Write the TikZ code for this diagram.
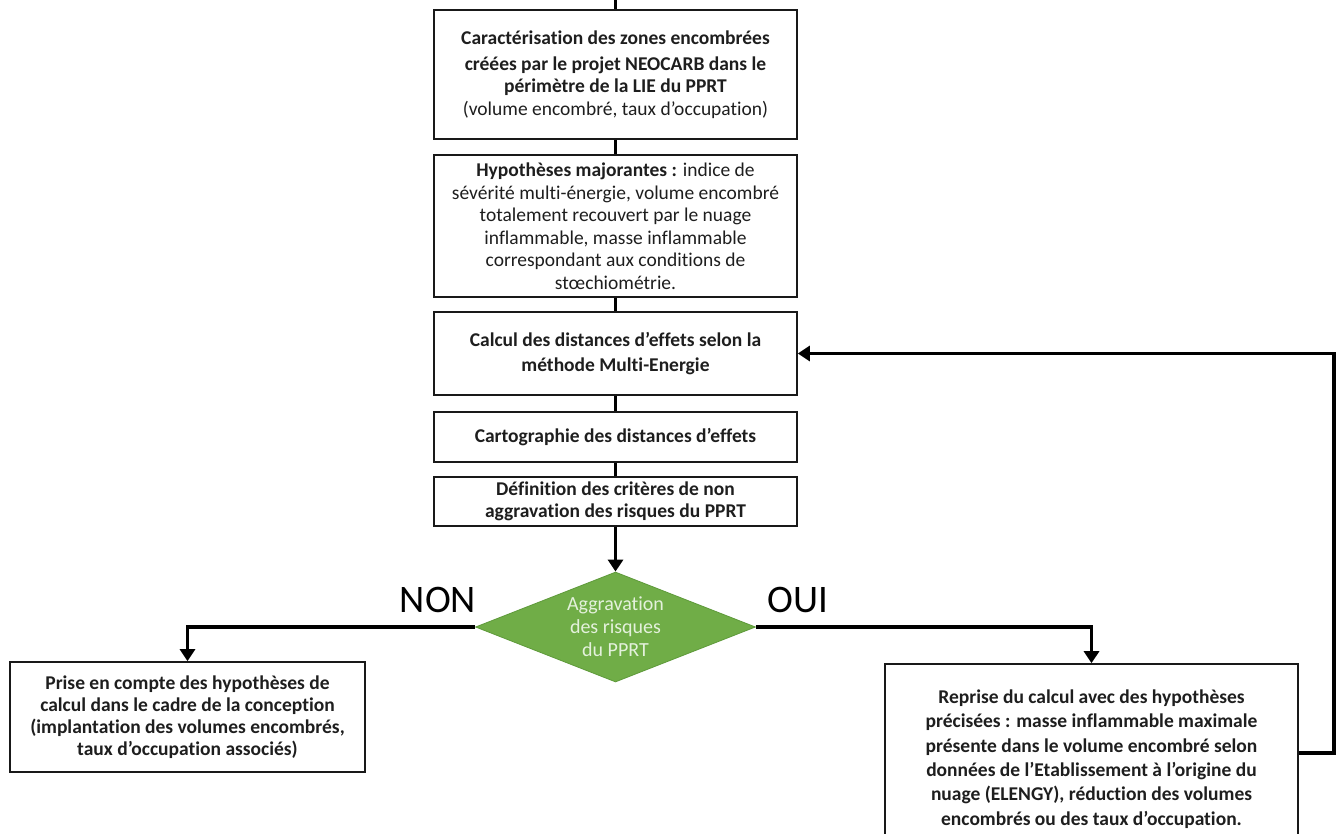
\documentclass[tikz,border=0pt]{standalone}
\usepackage{fontspec}
\setmainfont{Carlito}[Ligatures=NoCommon]
\usetikzlibrary{arrows.meta,shapes.geometric,calc}
\definecolor{txt}{HTML}{1E1E1E}
\definecolor{dgreen}{HTML}{70AD47}
\definecolor{dgreenb}{HTML}{5E9A3A}
\definecolor{ltxt}{HTML}{E4F1DC}
\tikzset{
  box/.style={draw=black!90, line width=1.6pt, fill=white, rectangle, align=center, inner sep=0pt, text=txt, font=\fontsize{19.5}{22.5}\selectfont},
  conn/.style={line width=3.6pt, black},
  arr/.style={conn, -{Triangle[width=15pt,length=12pt]}},
  lbl/.style={font=\fontsize{39}{42}\selectfont, text=black},
}
\begin{document}
\begin{tikzpicture}[x=1pt,y=-1pt]
\clip (0,0) rectangle (1340,834);
\fill[white] (0,0) rectangle (1340,834);
\node[box, minimum width=363pt, minimum height=129pt] (b1) at (615.5,74.5)
  {\textbf{Caractérisation des zones encombrées}\\[3pt]
   \textbf{créées par le projet NEOCARB dans le}\\
   \textbf{périmètre de la LIE du PPRT}\\
   (volume encombré, taux d’occupation)};
\node[box, minimum width=363pt, minimum height=142pt] (b2) at (615.5,226)
  {\textbf{Hypothèses majorantes :} indice de\\
   sévérité multi-énergie, volume encombré\\
   totalement recouvert par le nuage\\
   inflammable, masse inflammable\\
   correspondant aux conditions de\\
   stœchiométrie.};
\node[box, font=\bfseries\fontsize{19.5}{25}\selectfont, minimum width=363pt, minimum height=83pt] (b3) at (615.5,353.5)
  {Calcul des distances d’effets selon la\\méthode Multi-Energie};
\node[box, font=\bfseries\fontsize{19.5}{22}\selectfont, minimum width=363pt, minimum height=50pt] (b4) at (615.5,437)
  {Cartographie des distances d’effets};
\node[box, font=\bfseries\fontsize{19.5}{22}\selectfont, minimum width=363pt, minimum height=49pt] (b5) at (615.5,501.5)
  {Définition des critères de non\\aggravation des risques du PPRT};
\node[diamond, draw=dgreenb, line width=0.8pt, fill=dgreen, text=ltxt, inner sep=0pt,
      aspect=2.55, minimum width=280pt, minimum height=110pt, align=center,
      font=\fontsize{20}{23}\selectfont] (d) at (615.5,627)
  {Aggravation\\des risques\\du PPRT};
\node[box, font=\bfseries\fontsize{19.5}{21.8}\selectfont, minimum width=355pt, minimum height=110pt] (bl) at (187.5,717)
  {Prise en compte des hypothèses de\\calcul dans le cadre de la conception\\(implantation des volumes encombrés,\\taux d’occupation associés)};
\node[box, font=\bfseries\fontsize{19.5}{24.4}\selectfont, minimum width=413pt, minimum height=190pt] (br) at (1091.5,759)
  {Reprise du calcul avec des hypothèses\\précisées : masse inflammable maximale\\présente dans le volume encombré selon\\données de l’Etablissement à l'origine du\\nuage (ELENGY), réduction des volumes\\encombrés ou des taux d’occupation.};
\node[lbl] (non) at (438,600) {NON};
\node[lbl] (oui) at (798,600) {OUI};
\coordinate (t0) at (615.5,0);
\coordinate (fb) at (1334,0);
\draw[conn] (t0) -- (b1.north);
\draw[conn] (b1) -- (b2);
\draw[conn] (b2) -- (b3);
\draw[conn] (b3) -- (b4);
\draw[conn] (b4) -- (b5);
\draw[arr] (b5.south) -- (d.north);
\draw[arr] (d.west) -| (bl.north);
\draw[arr] (d.east) -| (br.north);
\draw[arr] ($(br.east)+(0,-6)$) -- ($(br.east -| fb)+(0,-6)$) |- (b3.east);
\end{tikzpicture}
\end{document}
